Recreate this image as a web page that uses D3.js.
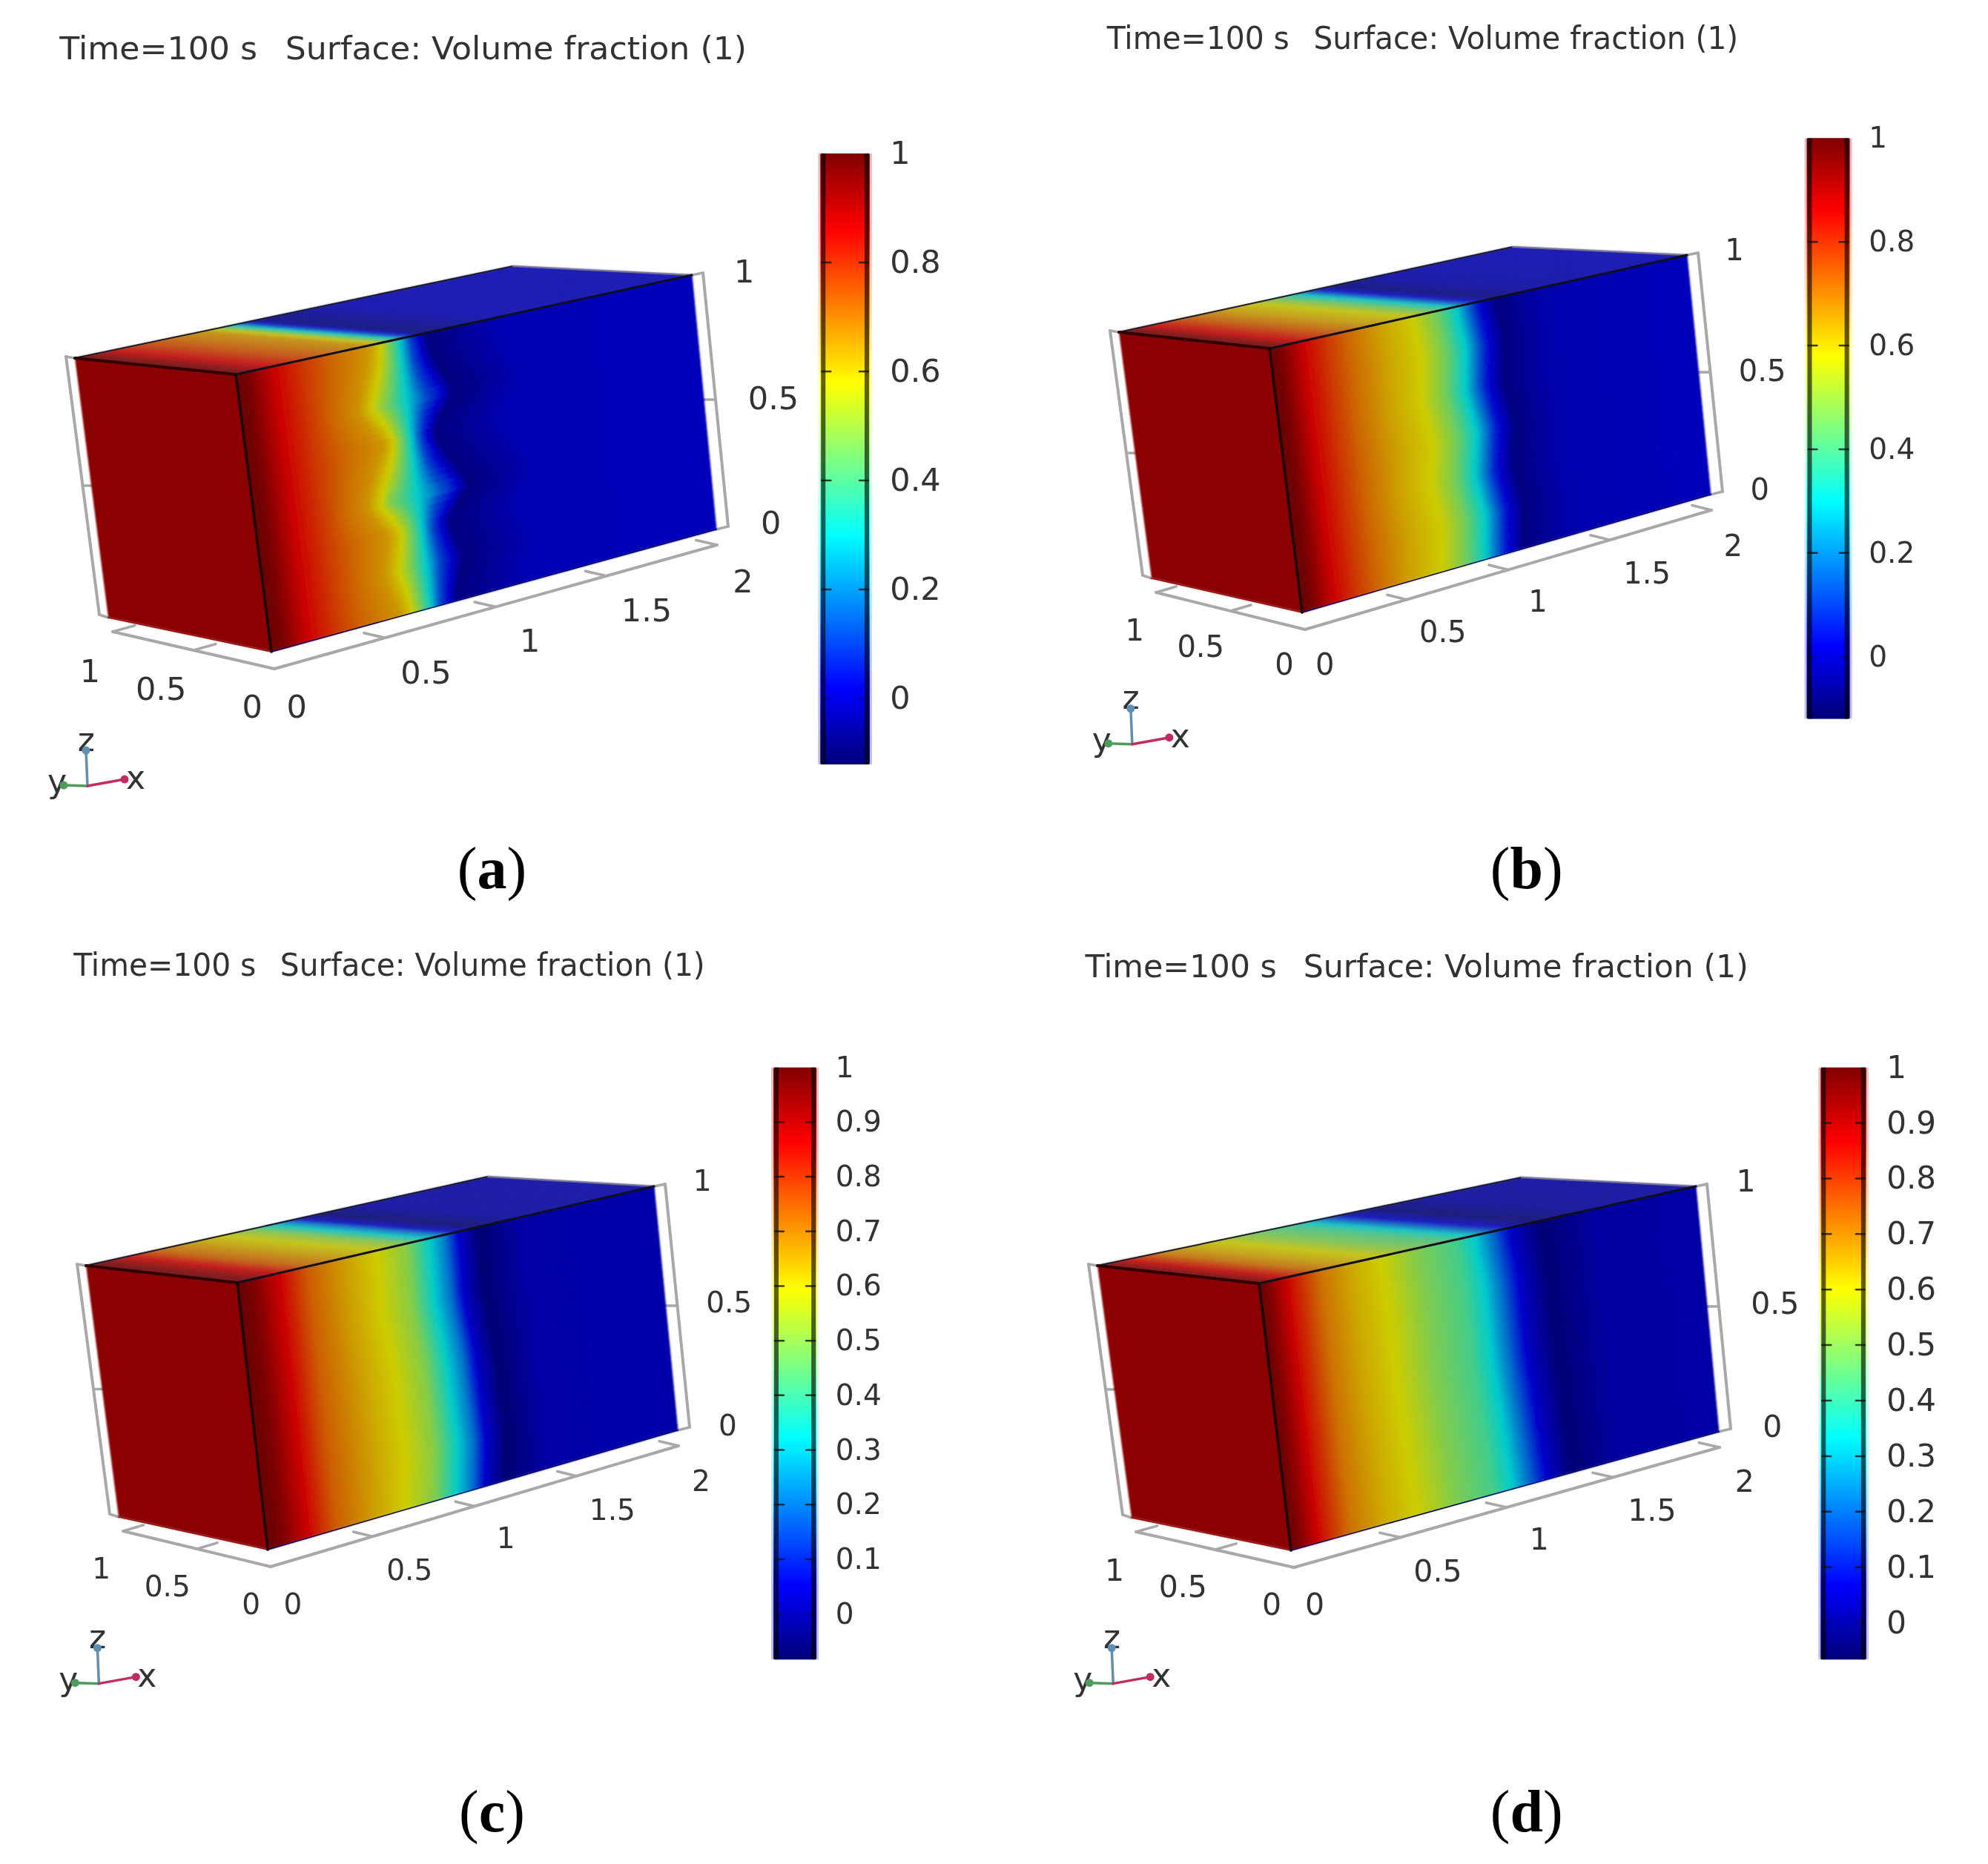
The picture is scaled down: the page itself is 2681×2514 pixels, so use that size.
<!DOCTYPE html>
<html>
<head>
<meta charset="utf-8">
<title>Volume fraction</title>
<script src="https://cdn.jsdelivr.net/npm/d3@7"></script>
<style>
  html, body { margin: 0; padding: 0; background: #fff; }
  svg { display: block; }
</style>
</head>
<body>
<div id="chart"></div>
<script>
// values: position along x (0..2) and volume fraction at mid height
var profileXA = [0, .06, .17, .4, .53, .6, .66, .72, .78, .89, 1.03, 1.2, 2];
var profileVA = [1, .97, .86, .72, .66, .58, .45, .3, .12, -.08, -.05, -.01, 0];
var profileXB = [0, .06, .16, .37, .53, .69, .8, .9, 1, 1.09, 1.3, 2];
var profileVB = [1, .97, .86, .72, .64, .58, .46, .3, .05, -.08, -.02, 0];
var profileXC = [0, .08, .2, .34, .53, .68, .81, .92, 1, 1.06, 1.16, 1.37, 2];
var profileVC = [1, .97, .865, .74, .65, .59, .5, .33, .2, .05, -.06, .005, .01];
var profileXD = [0, .05, .13, .28, .42, .58, .74, .92, 1.01, 1.09, 1.17, 1.3, 1.55, 2];
var profileVD = [1, .96, .867, .72, .65, .595, .5, .42, .33, .2, .06, -.04, .015, .02];

// shift of the front (in x) against height z
var frontZA = [0, .16, .3, .42, .63, .77, .92, 1];
var frontShiftA = [.05, 0, .04, -.055, .065, -.035, .03, .05];
var frontZB = [0, .17, .33, .5, .67, .83, 1];
var frontShiftB = [0, .022, -.005, .025, -.005, .018, -.005];
var frontZC = [0, .19, .53, .75, .95, 1];
var frontShiftC = [0, .03, .02, -.005, 0, 0];
var frontZD = [0, .2, .5, .8, 1];
var frontShiftD = [.03, .02, 0, 0, -.02];

var ticksCoarse = [1, .8, .6, .4, .2, 0];
var ticksFine = [1, .9, .8, .7, .6, .5, .4, .3, .2, .1, 0];
var barMins = [-.12, -.12, -.084, -.066];
var xTicks = [0, .5, 1, 1.5, 2];
var yTicks = [0, .5, 1];
var zTicks = [0, .5, 1];
var captions = ['a', 'b', 'c', 'd'];
var titleTime = 'Time=100 s';
var titleSurface = 'Surface: Volume fraction (1)';
var jetStops = [0, 1 / 8, 3 / 8, 5 / 8, 7 / 8, 1];
var jetColors = ['#000078', '#0000ff', '#00ffff', '#ffff00', '#ff0000', '#800000'];

// page layout, the picture was measured at 1568 wide so k brings those numbers back
var W = 2681, H = 2514, k = W / 1568;
var layouts = [
    {
        box: { A: [101, 483], B: [318, 505], C: [366, 879], D: [146, 833], E: [933, 371], F: [966, 714], G: [692, 359] },
        title: [[47, 203], [225, 589], 38], tickSize: 43, barTickSize: 43,
        bar: [647, 686, 121, 603, 702], oneAt: 121, zeroAt: 551,
        caption: [388, 687], origin: [69, 620],
        zLabels: [[608, 412], [610, 314], [587, 214]],
        yLabels: [[199, 557], [127, 543], [71, 529]],
        xLabels: [[234, 557], [336, 530], [418, 505], [510, 481], [586, 458]]
    },
    {
        box: { A: [1509, 448], B: [1712, 470], C: [1756, 826], D: [1553, 780], E: [2275, 344], F: [2307, 667], G: [2040, 333] },
        title: [[873, 1017], [1036, 1371], 30], tickSize: 40, barTickSize: 39,
        bar: [1425, 1459, 109, 567, 1474], oneAt: 109, zeroAt: 518,
        caption: [1204, 687], origin: [893, 587],
        zLabels: [[1388, 386], [1390, 292], [1368, 197]],
        yLabels: [[1013, 524], [947, 510], [895, 497]],
        xLabels: [[1045, 524], [1138, 498], [1213, 474], [1299, 452], [1367, 430]]
    },
    {
        box: { A: [116, 1707], B: [320, 1730], C: [361, 2090], D: [160, 2046], E: [882, 1600], F: [914, 1929], G: [658, 1587] },
        title: [[58, 202], [221, 556], 761], tickSize: 39, barTickSize: 39,
        bar: [610, 644, 842, 1309, 659], oneAt: 842, zeroAt: 1273,
        caption: [388, 1431], origin: [78, 1328],
        zLabels: [[574, 1124], [575, 1027], [554, 931]],
        yLabels: [[198, 1265], [132, 1251], [80, 1237]],
        xLabels: [[231, 1265], [323, 1238], [399, 1213], [483, 1191], [553, 1168]]
    },
    {
        box: { A: [1480, 1707], B: [1698, 1731], C: [1741, 2091], D: [1526, 2047], E: [2287, 1600], F: [2318, 1931], G: [2052, 1588] },
        title: [[856, 1007], [1028, 1379], 762], tickSize: 41, barTickSize: 42,
        bar: [1436, 1472, 842, 1309, 1488], oneAt: 842, zeroAt: 1280,
        caption: [1204, 1431], origin: [878, 1328],
        zLabels: [[1398, 1125], [1400, 1028], [1377, 931]],
        yLabels: [[1003, 1265], [933, 1251], [879, 1238]],
        xLabels: [[1037, 1265], [1134, 1239], [1214, 1214], [1303, 1191], [1376, 1168]]
    }
];

var panels = [
    { px: profileXA, pv: profileVA, fz: frontZA, fs: frontShiftA, ticks: ticksCoarse, twoPhase: true },
    { px: profileXB, pv: profileVB, fz: frontZB, fs: frontShiftB, ticks: ticksCoarse, twoPhase: false },
    { px: profileXC, pv: profileVC, fz: frontZC, fs: frontShiftC, ticks: ticksFine, twoPhase: false },
    { px: profileXD, pv: profileVD, fz: frontZD, fs: frontShiftD, ticks: ticksFine, twoPhase: false }
];

var sansFont = '"DejaVu Sans", sans-serif';
var textColor = '#333';
var greyLine = '#a8a8a8';
var cols = 150, sideRows = 40, topRows = 8;

var svg = d3.select('#chart').append('svg')
    .attr('width', W).attr('height', H).attr('viewBox', [0, 0, W, H]);

var defs = svg.append('defs');
function addBlur(id, dev) {
    defs.append('filter').attr('id', id)
        .attr('filterUnits', 'userSpaceOnUse')
        .attr('x', 0).attr('y', 0).attr('width', W).attr('height', H)
        .append('feGaussianBlur').attr('stdDeviation', dev);
}
addBlur('soft', 1);
addBlur('softText', .7);

// mix of two screen points
function mix(p, q, t) {
    return [p[0] + (q[0] - p[0]) * t, p[1] + (q[1] - p[1]) * t];
}
function add(p, dx, dy) {
    return [p[0] + dx, p[1] + dy];
}
function shade(color, factor, extra) {
    var c = d3.rgb(color);
    return d3.rgb(c.r * factor + extra, c.g * factor + extra, c.b * factor + extra).formatRgb();
}
function line(g, p, q, color, width) {
    return g.append('line')
        .attr('x1', p[0]).attr('y1', p[1]).attr('x2', q[0]).attr('y2', q[1])
        .attr('stroke', color).attr('stroke-width', width).attr('stroke-linecap', 'round');
}
function label(g, p, str, size) {
    return g.append('text')
        .attr('x', p[0] * k).attr('y', p[1] * k)
        .attr('text-anchor', 'middle').attr('dy', '.36em')
        .attr('font-family', sansFont).attr('font-size', size)
        .attr('fill', textColor)
        .text(str);
}

panels.forEach(function (panel, i) {
    var lay = layouts[i];
    var b = lay.box;
    var g = svg.append('g').attr('class', 'panel panel-' + captions[i]);

    var barMin = barMins[i];
    var color = d3.scaleLinear()
        .domain(jetStops.map(function (s) { return barMin + s * (1 - barMin); }))
        .range(jetColors);
    var profile = d3.scaleLinear().domain(panel.px).range(panel.pv).clamp(true);
    var front = d3.scaleLinear().domain(panel.fz).range(panel.fs);
    var weight = panel.twoPhase ?
        d3.scaleLinear().domain([.3, .6, .72, .85, 1.2, 1.5]).range([0, 1, 0, -1.2, -1, 0]).clamp(true) :
        d3.scaleLinear().domain([.3, .7, 1.2, 1.5]).range([0, 1, 1, 0]).clamp(true);
    var xFrac = d3.scaleLinear().domain([0, 2]).range([0, 1]);
    var yFrac = d3.scaleLinear().domain([0, 1]).range([0, 1]);
    var zFrac = d3.scaleLinear().domain([0, 1]).range([0, 1]);

    function value(x, z) {
        return profile(x - front(z) * weight(x));
    }
    function sidePoint(x, z) {
        var t = xFrac(x);
        return mix(mix(b.C, b.F, t), mix(b.B, b.E, t), zFrac(z));
    }
    function topPoint(x, y) {
        var t = xFrac(x);
        return mix(mix(b.B, b.E, t), mix(b.A, b.G, t), yFrac(y));
    }

    // grey frame behind the box
    var frame = g.append('g').attr('class', 'frame');
    var leftTop = add(b.A, -12, -2), leftBottom = add(b.D, -12, -4);
    var rightTop = add(b.E, 15, -3), rightBottom = add(b.F, 16, -4);
    var origin = add(b.C, 4, 23), yEnd = add(b.D, 6, 19), xEnd = add(b.F, 1, 21);
    var xDir = [(xEnd[0] - origin[0]) * .05, (xEnd[1] - origin[1]) * .05];
    var yDir = [(yEnd[0] - origin[0]) * .13, (yEnd[1] - origin[1]) * .13];

    line(frame, leftTop, leftBottom, greyLine, 4);
    line(frame, leftBottom, b.D, greyLine, 3.5);
    line(frame, leftTop, b.A, greyLine, 3.5);
    line(frame, rightTop, rightBottom, greyLine, 4);
    line(frame, rightTop, b.E, greyLine, 3.5);
    line(frame, rightBottom, b.F, greyLine, 3.5);
    line(frame, origin, yEnd, greyLine, 4);
    line(frame, origin, xEnd, greyLine, 4);

    xTicks.slice(1).forEach(function (t) {
        var p = mix(origin, xEnd, xFrac(t));
        line(frame, p, add(p, yDir[0], yDir[1]), greyLine, 3.5);
    });
    yTicks.slice(1).forEach(function (t) {
        var p = mix(origin, yEnd, yFrac(t));
        line(frame, p, add(p, xDir[0], xDir[1]), greyLine, 3.5);
    });
    zTicks.slice(1, 2).forEach(function (t) {
        var p = mix(rightBottom, rightTop, zFrac(t));
        line(frame, p, add(p, -22, 0), greyLine, 3.5);
        var q = mix(leftBottom, leftTop, zFrac(t));
        line(frame, q, add(q, 16, 0), greyLine, 3.5);
    });

    // surface cells
    var field = g.append('g').attr('class', 'field').attr('filter', 'url(#soft)');
    var dx = 2 / cols;

    var topCells = d3.cross(d3.range(cols), d3.range(topRows)).map(function (c) {
        var x0 = c[0] * dx, x1 = x0 + dx;
        var y0 = c[1] / topRows, y1 = (c[1] + 1) / topRows;
        return {
            pts: [topPoint(x0, y0), topPoint(x1, y0), topPoint(x1, y1), topPoint(x0, y1)],
            fill: shade(color(value((x0 + x1) / 2, 1)), .65, 30)
        };
    });
    var sideCells = d3.cross(d3.range(cols), d3.range(sideRows)).map(function (c) {
        var x0 = c[0] * dx, x1 = x0 + dx;
        var z0 = c[1] / sideRows, z1 = (c[1] + 1) / sideRows;
        return {
            pts: [sidePoint(x0, z0), sidePoint(x1, z0), sidePoint(x1, z1), sidePoint(x0, z1)],
            fill: shade(color(value((x0 + x1) / 2, (z0 + z1) / 2)), .8, 0)
        };
    });

    field.selectAll('polygon.cell')
        .data(topCells.concat(sideCells))
        .join('polygon')
        .attr('class', 'cell')
        .attr('points', function (d) { return d.pts.join(' '); })
        .attr('fill', function (d) { return d.fill; })
        .attr('stroke', function (d) { return d.fill; })
        .attr('stroke-width', 1);

    // the x=0 end, saturated all over
    field.append('polygon')
        .attr('points', [b.A, b.B, b.C, b.D].join(' '))
        .attr('fill', '#8b0000');

    // box edges
    var edges = g.append('g').attr('class', 'edges');
    line(edges, b.D, b.C, '#960808', 1.5);
    line(edges, b.C, b.F, '#000060', 1.5);
    line(edges, b.A, b.G, '#1a1a2a', 2);
    line(edges, b.G, b.E, '#777790', 2);
    line(edges, b.A, b.B, '#300000', 4);
    line(edges, b.B, b.C, '#1c0000', 3.5);
    line(edges, b.B, b.E, '#10101c', 3);

    // colour bar
    var bar = g.append('g').attr('class', 'colorbar');
    var barX0 = lay.bar[0] * k, barX1 = lay.bar[1] * k;
    var barTop = lay.bar[2] * k, barBottom = lay.bar[3] * k;
    var gradId = 'jet-' + captions[i];
    var grad = defs.append('linearGradient').attr('id', gradId)
        .attr('x1', 0).attr('x2', 0).attr('y1', 1).attr('y2', 0);
    jetStops.forEach(function (s, j) {
        grad.append('stop').attr('offset', s).attr('stop-color', jetColors[j]);
    });
    var barScale = d3.scaleLinear().domain([0, 1]).range([lay.zeroAt * k, lay.oneAt * k]);

    bar.append('rect')
        .attr('x', barX0 - 3).attr('y', barTop)
        .attr('width', barX1 - barX0 + 6).attr('height', barBottom - barTop)
        .attr('fill', 'url(#' + gradId + ')').attr('fill-opacity', .25);
    bar.append('rect')
        .attr('x', barX0).attr('y', barTop)
        .attr('width', barX1 - barX0).attr('height', barBottom - barTop)
        .attr('rx', 2)
        .attr('fill', 'url(#' + gradId + ')');
    [barX0 + 1, barX1 - 7].forEach(function (x) {
        bar.append('rect')
            .attr('x', x).attr('y', barTop)
            .attr('width', 6).attr('height', barBottom - barTop)
            .attr('fill', '#000').attr('fill-opacity', .62);
    });
    panel.ticks.slice(1).forEach(function (t) {
        var y = barScale(t);
        var alpha = t === 0 ? .3 : .8;
        line(bar, [barX0 + 2, y], [barX0 + 14, y], '#111', 2.5).attr('stroke-opacity', alpha);
        line(bar, [barX1 - 14, y], [barX1 - 2, y], '#111', 2.5).attr('stroke-opacity', alpha);
    });

    // all the panel text, a bit soft like the rest of the picture
    var texts = g.append('g').attr('class', 'texts').attr('filter', 'url(#softText)');

    var barAxis = d3.axisRight(barScale)
        .tickValues(panel.ticks)
        .tickSize(0)
        .tickPadding((lay.bar[4] - lay.bar[1]) * k)
        .tickFormat(function (d) { return String(d); });
    texts.append('g')
        .attr('transform', 'translate(' + barX1 + ',0)')
        .style('color', textColor)
        .call(barAxis)
        .call(function (a) { a.select('.domain').remove(); })
        .attr('font-family', sansFont)
        .attr('font-size', lay.barTickSize);

    // title, two runs fitted to the measured widths
    [[titleTime, lay.title[0]], [titleSurface, lay.title[1]]].forEach(function (run) {
        texts.append('text')
            .attr('x', run[1][0] * k)
            .attr('y', lay.title[2] * k + 15)
            .attr('font-family', sansFont)
            .attr('font-size', 42)
            .attr('fill', textColor)
            .attr('textLength', (run[1][1] - run[1][0]) * k)
            .attr('lengthAdjust', 'spacingAndGlyphs')
            .text(run[0]);
    });

    xTicks.forEach(function (t, j) { label(texts, lay.xLabels[j], String(t), lay.tickSize); });
    yTicks.forEach(function (t, j) { label(texts, lay.yLabels[j], String(t), lay.tickSize); });
    zTicks.forEach(function (t, j) { label(texts, lay.zLabels[j], String(t), lay.tickSize); });

    // axis triad
    var triad = g.append('g').attr('class', 'triad');
    var o = [lay.origin[0] * k, lay.origin[1] * k];
    var arms = [
        { tip: add(o, -2, -48), color: '#5e8fb2', name: 'z', at: [o[0] / k - 1, o[1] / k - 37] },
        { tip: add(o, -32, -1), color: '#4c9c5a', name: 'y', at: [o[0] / k - 24, o[1] / k - 4] },
        { tip: add(o, 50, -9), color: '#c22a62', name: 'x', at: [o[0] / k + 38, o[1] / k - 7] }
    ];
    arms.forEach(function (arm) {
        line(triad, o, arm.tip, arm.color, 3.5);
        triad.append('circle')
            .attr('cx', arm.tip[0]).attr('cy', arm.tip[1]).attr('r', 5.5)
            .attr('fill', arm.color);
        label(texts, arm.at, arm.name, 44);
    });

    // caption (a), (b) ...
    var cap = g.append('text')
        .attr('x', lay.caption[0] * k)
        .attr('y', lay.caption[1] * k + 23)
        .attr('text-anchor', 'middle')
        .attr('font-family', '"Liberation Serif", serif')
        .attr('font-size', 80)
        .attr('fill', '#000');
    cap.append('tspan').text('(');
    cap.append('tspan').attr('font-weight', 'bold').text(captions[i]);
    cap.append('tspan').text(')');
});
</script>
</body>
</html>
